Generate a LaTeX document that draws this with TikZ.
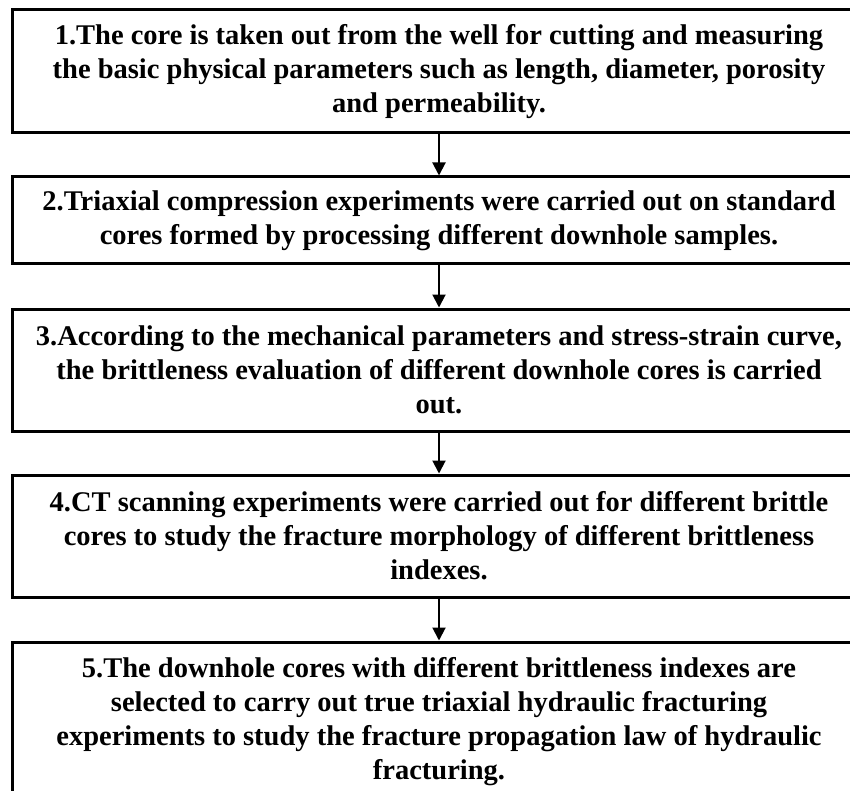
\documentclass[tikz,border=0pt]{standalone}
\usepackage{fontspec}
\setmainfont{Liberation Serif}
\usetikzlibrary{arrows.meta}
\begin{document}
\begin{tikzpicture}[x=1pt,y=-1pt,
  stepbox/.style={draw=black, line width=3pt, minimum width=854pt, align=center, inner sep=0pt,
    font=\fontsize{28.5}{34}\selectfont\bfseries},
  flow/.style={draw=black, line width=2pt, -{Triangle[length=13pt,width=13pt]}}]
\useasboundingbox (0,0) rectangle (850,791);
\fill[white] (0,0) rectangle (850,791);
\clip (0,0) rectangle (850,791);
\node[stepbox, minimum height=123pt] (b1) at (439,71.5)
  {1.The core is taken out from the well for cutting and measuring\\
   the basic physical parameters such as length, diameter, porosity\\
   and permeability.};
\node[stepbox, minimum height=87pt] (b2) at (439,220.5)
  {2.Triaxial compression experiments were carried out on standard\\
   cores formed by processing different downhole samples.};
\node[stepbox, minimum height=122pt] (b3) at (439,370)
  {3.According to the mechanical parameters and stress-strain curve,\\
   the brittleness evaluation of different downhole cores is carried\\
   out.};
\node[stepbox, minimum height=122pt] (b4) at (439,536)
  {4.CT scanning experiments were carried out for different brittle\\
   cores to study the fracture morphology of different brittleness\\
   indexes.};
\node[stepbox, minimum height=160pt] (b5) at (439,722)
  {5.The downhole cores with different brittleness indexes are\\
   selected to carry out true triaxial hydraulic fracturing\\
   experiments to study the fracture propagation law of hydraulic\\
   fracturing.};
\draw[flow] (b1) -- (b2);
\draw[flow] (b2) -- (b3);
\draw[flow] (b3) -- (b4);
\draw[flow] (b4) -- (b5);
\end{tikzpicture}
\end{document}
